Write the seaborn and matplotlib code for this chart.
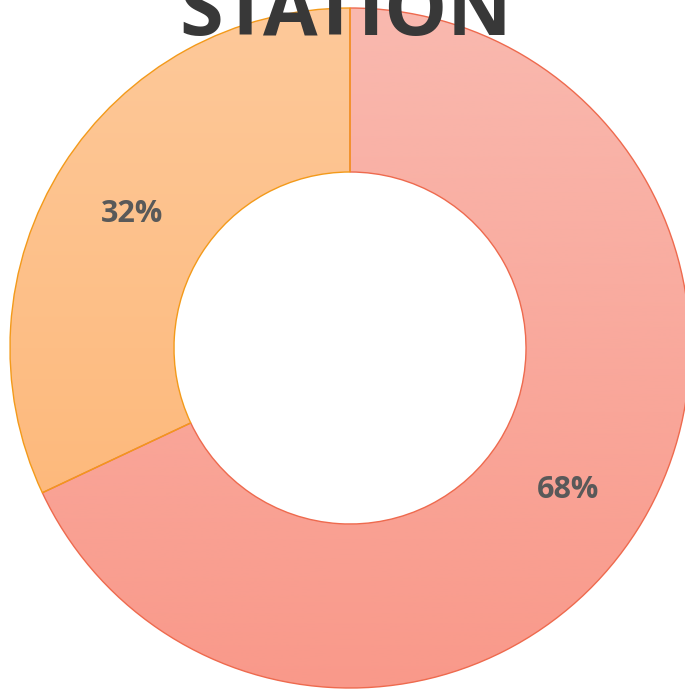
import matplotlib.pyplot as plt
import seaborn as sns
import numpy as np
from matplotlib.colors import LinearSegmentedColormap

sns.set_theme(style="white")
plt.rcParams['font.family'] = ['Open Sans', 'DejaVu Sans']

# data
labels = ['Yes', 'No']
shares = [68, 32]
title = 'STATION'

# colors (top, bottom of gradient) and edges
grad_colors = [('#F9B9AF', '#F9998A'), ('#FEC99A', '#FDB370')]
edge_colors = ['#EE6A4E', '#F39A1A']

W, H = 685, 689
fig = plt.figure(figsize=(W / 100, H / 100), dpi=100)
ax = fig.add_axes([0, 0, 1, 1])

cx, cy, r = 350, H - 348, 340
ring = 164

wedges, texts, autotexts = ax.pie(
    shares, center=(cx, cy), radius=r, startangle=90, counterclock=False,
    autopct='%.0f%%', pctdistance=0.76, frame=True,
    wedgeprops=dict(width=ring, facecolor='none', edgecolor='none'),
    textprops=dict(color='#595959', fontsize=22, fontweight='bold'))
ax.set_xlim(0, W)
ax.set_ylim(0, H)
ax.set_aspect('equal')
ax.axis('off')

grad = np.linspace(0, 1, 256).reshape(-1, 1)
for w, (top, bot) in zip(wedges, grad_colors):
    cmap = LinearSegmentedColormap.from_list('g', [top, bot])
    im = ax.imshow(grad, cmap=cmap, aspect='auto', origin='upper',
                   extent=(cx - r, cx + r, cy - r, cy + r), zorder=1)
    im.set_clip_path(w)

# edges on top, orange last
for w, ec in zip(wedges, edge_colors):
    w.set_edgecolor(ec)
    w.set_linewidth(1.0)
    w.set_zorder(2)
for t in autotexts:
    x, y = t.get_position()
    t.set_position((x, y - 4))
    t.set_zorder(3)

ax.text(346, H - 35, title, ha='center', va='baseline', fontsize=57,
        fontweight='bold', color='#383838', zorder=4)

fig.savefig('out.png', dpi=100)
